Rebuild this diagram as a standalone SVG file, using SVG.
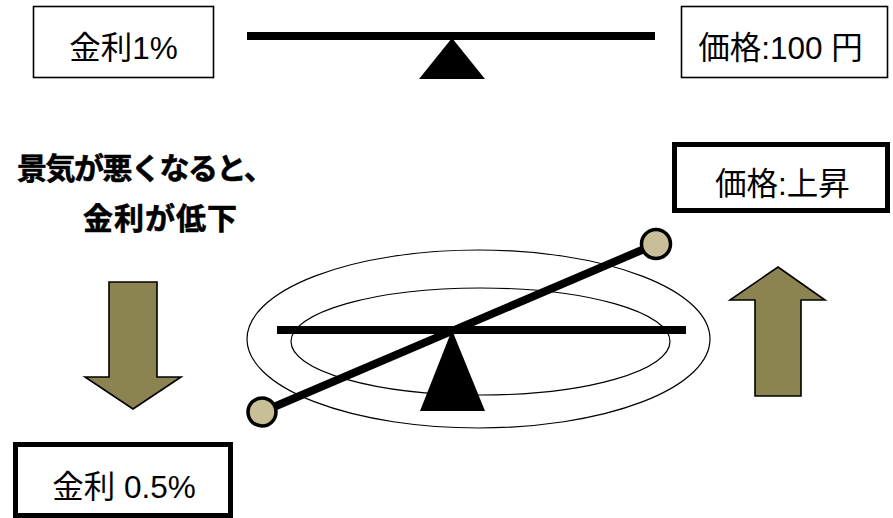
<svg xmlns="http://www.w3.org/2000/svg" width="893" height="518" viewBox="0 0 893 518">
<style>
.box{fill:#fff;stroke:#000;stroke-width:1.6}
.boxb{fill:#fff;stroke:#000;stroke-width:5}
.t{font-family:"Liberation Sans","Noto Sans CJK JP",sans-serif;font-size:31.5px;fill:#000;text-anchor:middle}
.h{font-family:"Noto Sans CJK JP",sans-serif;font-weight:bold;font-size:30px;fill:#000}
.arrow{fill:#8C8450;stroke:#000;stroke-width:1.6;stroke-linejoin:miter}
.ball{fill:#C8BF99;stroke:#000;stroke-width:3.5}
.ring{fill:none;stroke:#000;stroke-width:1.2}
</style>
<rect width="893" height="518" fill="#fff"/>
<g id="rate1">
<rect class="box" x="33.5" y="6.5" width="180" height="71"/>
<text class="t" x="123.5" y="58.5">金利1%</text>
</g>
<g id="price100">
<rect class="box" x="681.5" y="6.5" width="206" height="71"/>
<text class="t" x="780.5" y="58.5">価格:100 円</text>
</g>
<g id="seesaw-top">
<rect x="247" y="32" width="408" height="8" fill="#000"/>
<polygon points="452,38 419,79 485,79" fill="#000"/>
</g>
<g id="caption">
<text class="h" x="17" y="179" letter-spacing="-1.5" stroke="#000" stroke-width="0.6">景気が悪くなると、</text>
<text class="h" x="83" y="229" font-size="31" letter-spacing="1" stroke="#000" stroke-width="0.6">金利が低下</text>
</g>
<g id="priceup">
<rect class="boxb" x="674.5" y="144.5" width="213" height="66"/>
<text class="t" x="782.5" y="194.5">価格:上昇</text>
</g>
<g id="rate05">
<rect class="boxb" x="15.5" y="444.5" width="215" height="71"/>
<text class="t" x="124" y="497.5">金利 0.5%</text>
</g>
<g id="down-arrow">
<polygon class="arrow" points="109,282 157,282 157,377 181,377 133,409 85,377 109,377"/>
</g>
<g id="up-arrow">
<polygon class="arrow" points="778,267 825,300 801,300 801,396 755,396 755,300 730,300"/>
</g>
<g id="seesaw-bottom">
<ellipse class="ring" cx="478.5" cy="339" rx="231.5" ry="89"/>
<ellipse class="ring" cx="480.5" cy="341.5" rx="189.5" ry="53.5"/>
<rect x="277" y="326" width="409" height="8" fill="#000"/>
<polygon points="452,330 420,411 485,411" fill="#000"/>
<line x1="262" y1="412" x2="656" y2="244" stroke="#000" stroke-width="8"/>
<circle class="ball" cx="262" cy="412" r="14"/>
<circle class="ball" cx="656" cy="244" r="14.5"/>
</g>
</svg>
